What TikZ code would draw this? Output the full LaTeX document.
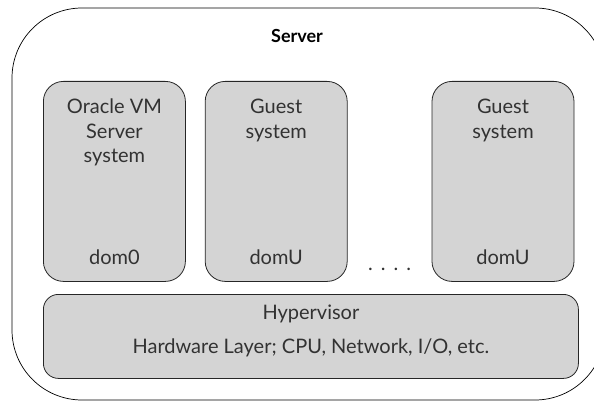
\documentclass[tikz,border=0pt]{standalone}
\usepackage{fontspec}
\setmainfont{Lato}
\usetikzlibrary{positioning, calc}
\definecolor{boxgray}{RGB}{212, 212, 212}
\definecolor{textgray}{RGB}{50, 50, 50}

\begin{document}
\begin{tikzpicture}[x=1pt, y=-1pt,
	node distance=19pt,
	vm/.style={draw=black!85, fill=boxgray, rounded corners=20pt, line width=0.8pt, minimum width=142pt, minimum height=200pt, inner sep=0pt},
	hyper/.style={draw=black!85, fill=boxgray, rounded corners=15pt, line width=0.8pt, minimum width=535pt, minimum height=84pt, inner sep=0pt},
	txt/.style={font=\fontsize{20}{24.5}\selectfont, text=textgray, align=center, inner sep=0pt}]
	\useasboundingbox (0,0) rectangle (594,401);
	% outer frame
	\draw[line width=0.7pt] (12,78) arc[start angle=180, end angle=90, radius=70pt]
		-- (535,8) arc[start angle=90, end angle=0, radius=70pt]
		-- (605,330) arc[start angle=0, end angle=-90, radius=70pt]
		-- (82,400) arc[start angle=-90, end angle=-180, radius=70pt] -- cycle;
	\node[font=\fontsize{18}{20}\selectfont\bfseries, inner sep=0pt] (server) at (297,36) {Server};
	% guest domains
	\node[vm, anchor=north west] (dom0) at (43,81) {};
	\node[vm, right=of dom0] (guesta) {};
	\node[vm, right=84pt of guesta] (guestb) {};
	\node[txt, anchor=north] at ([yshift=-18pt]dom0.north) {Oracle VM\\Server\\system};
	\node[txt, anchor=north] at ([yshift=-18pt]guesta.north) {Guest\\system};
	\node[txt, anchor=north] at ([yshift=-18pt]guestb.north) {Guest\\system};
	\node[txt, anchor=base] at ([yshift=17pt]dom0.south) {dom0};
	\node[txt, anchor=base] at ([yshift=17pt]guesta.south) {domU};
	\node[txt, anchor=base] at ([yshift=17pt]guestb.south) {domU};
	\node[txt, anchor=base] (dots) at ($(guesta.south east)!0.5!(guestb.south west)+(0,11pt)$) {.\hspace{8pt}.\hspace{8pt}.\hspace{8pt}.};
	% hypervisor
	\node[hyper, anchor=north west] (hyp) at (43,294) {};
	\node[txt, anchor=base] at ([yshift=17pt]hyp.center) {Hypervisor};
	\node[txt, anchor=base] at ([yshift=-17pt]hyp.center) {Hardware Layer; CPU, Network, I/O, etc.};
\end{tikzpicture}
\end{document}
